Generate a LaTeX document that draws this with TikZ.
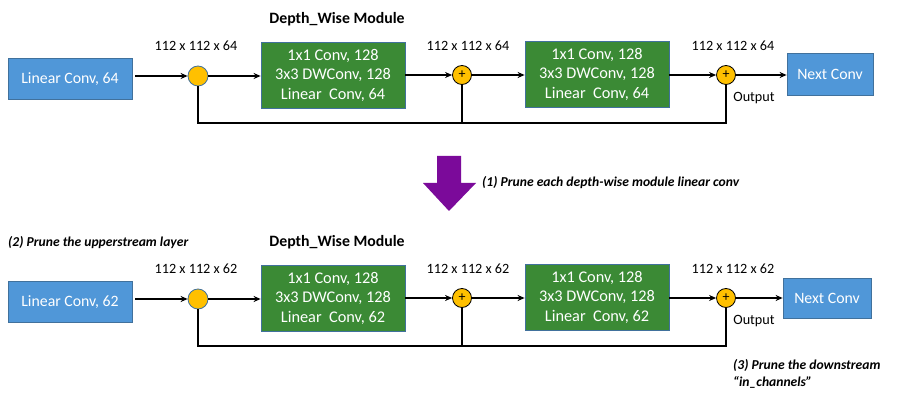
\documentclass[tikz,border=0pt]{standalone}
\usepackage{fontspec}
\setmainfont{Carlito}
\usetikzlibrary{arrows.meta}
\definecolor{boxblue}{HTML}{5097D8}
\definecolor{boxblueline}{HTML}{41719C}
\definecolor{boxgreen}{HTML}{3B8A35}
\definecolor{sumyellow}{HTML}{FFC000}
\definecolor{arrpurple}{HTML}{7B0A9A}
\tikzset{
  bluebox/.style={fill=boxblue, draw=boxblueline, line width=0.8pt, text=white, inner sep=0pt, font=\fontsize{15.8}{18}\selectfont},
  greenbox/.style={fill=boxgreen, draw=boxblueline, line width=0.8pt, text=white, align=center, inner sep=0pt, minimum width=144pt, minimum height=66pt, font=\fontsize{16.3}{19.5}\selectfont},
  sumnode/.style={circle, fill=sumyellow, draw=boxblueline, line width=0.8pt, minimum size=20pt, inner sep=0pt},
  plusnode/.style={circle, fill=sumyellow, draw=black, line width=0.8pt, minimum size=19pt, inner sep=0pt, font=\fontsize{14}{14}\selectfont},
  dimlabel/.style={font=\fontsize{14.2}{16}\selectfont, inner sep=0pt},
  headlabel/.style={font=\fontsize{15.8}{18}\selectfont\bfseries, inner sep=0pt},
  notelabel/.style={font=\fontsize{13.6}{17}\selectfont\bfseries\itshape, inner sep=0pt, align=left},
  conn/.style={line width=1.6pt, -{Stealth[length=7pt,width=6pt]}},
  fbline/.style={line width=1.6pt},
}
\begin{document}
\begin{tikzpicture}[x=1pt,y=-1pt]
\useasboundingbox (0,0) rectangle (902,403);
% ---------- top row ----------
\node[bluebox, minimum width=124pt, minimum height=41pt] (lin1) at (70,79) {Linear Conv, 64};
\node[sumnode] (s1a) at (198,76) {};
\node[greenbox] (g1a) at (333,75) {1x1 Conv, 128\\3x3 DWConv, 128\\Linear\ \ Conv, 64};
\node[plusnode] (s1b) at (462,75) {+};
\node[greenbox] (g1b) at (597,74) {1x1 Conv, 128\\3x3 DWConv, 128\\Linear\ \ Conv, 64};
\node[plusnode] (s1c) at (726,75) {+};
\node[bluebox, minimum width=86pt, minimum height=42pt] (nx1) at (830,74) {Next Conv};
\node[headlabel] (h1) at (337,19) {Depth\_Wise Module};
\node[dimlabel] (d1a) at (196,46) {112 x 112 x 64};
\node[dimlabel] (d1b) at (468,46) {112 x 112 x 64};
\node[dimlabel] (d1c) at (733,46) {112 x 112 x 64};
\node[dimlabel] (o1) at (754,98) {Output};
\draw[conn] (lin1.east |- s1a) ++(3,0) coordinate (st1) -- (s1a.west);
\draw[conn] (s1a.east) -- (s1a.east -| g1a.west);
\draw[conn] (g1a.east |- s1b) -- (s1b.west);
\draw[conn] (s1b.east) -- (s1b.east -| g1b.west);
\draw[conn] (g1b.east |- s1c) -- (s1c.west);
\draw[conn] (s1c.east) -- (s1c.east -| nx1.west);
\coordinate (fb1) at (0,123);
\draw[fbline] (s1a.south) -- (s1a.south |- fb1) -| (s1c.south);
\draw[fbline] (s1b.south) -- (s1b.south |- fb1);
% ---------- purple arrow ----------
\fill[arrpurple] (437,156) -- (461,156) -- (461,183) -- (476,183) -- (449,211) -- (423,183) -- (437,183) -- cycle;
\node[notelabel, anchor=west] (n1) at (482,183) {(1) Prune each depth-wise module linear conv};
% ---------- bottom row ----------
\node[bluebox, minimum width=124pt, minimum height=41pt] (lin2) at (70,302) {Linear Conv, 62};
\node[sumnode] (s2a) at (198,299) {};
\node[greenbox] (g2a) at (333,298) {1x1 Conv, 128\\3x3 DWConv, 128\\Linear\ \ Conv, 62};
\node[plusnode] (s2b) at (462,298) {+};
\node[greenbox] (g2b) at (597,297) {1x1 Conv, 128\\3x3 DWConv, 128\\Linear\ \ Conv, 62};
\node[plusnode] (s2c) at (726,298) {+};
\node[bluebox, minimum width=88pt, minimum height=40pt] (nx2) at (827,298) {Next Conv};
\node[headlabel] (h2) at (337,242) {Depth\_Wise Module};
\node[dimlabel] (d2a) at (196,269) {112 x 112 x 62};
\node[dimlabel] (d2b) at (468,269) {112 x 112 x 62};
\node[dimlabel] (d2c) at (733,269) {112 x 112 x 62};
\node[dimlabel] (o2) at (754,321) {Output};
\draw[conn] (lin2.east |- s2a) ++(3,0) coordinate (st2) -- (s2a.west);
\draw[conn] (s2a.east) -- (s2a.east -| g2a.west);
\draw[conn] (g2a.east |- s2b) -- (s2b.west);
\draw[conn] (s2b.east) -- (s2b.east -| g2b.west);
\draw[conn] (g2b.east |- s2c) -- (s2c.west);
\draw[conn] (s2c.east) -- (s2c.east -| nx2.west);
\coordinate (fb2) at (0,346);
\draw[fbline] (s2a.south) -- (s2a.south |- fb2) -| (s2c.south);
\draw[fbline] (s2b.south) -- (s2b.south |- fb2);
\node[notelabel, anchor=west] (n2) at (8,243) {(2) Prune the upperstream layer};
\node[notelabel, anchor=north west] (n3) at (733,359) {(3) Prune the downstream\\\hspace*{0pt}“in\_channels”};
\end{tikzpicture}
\end{document}
